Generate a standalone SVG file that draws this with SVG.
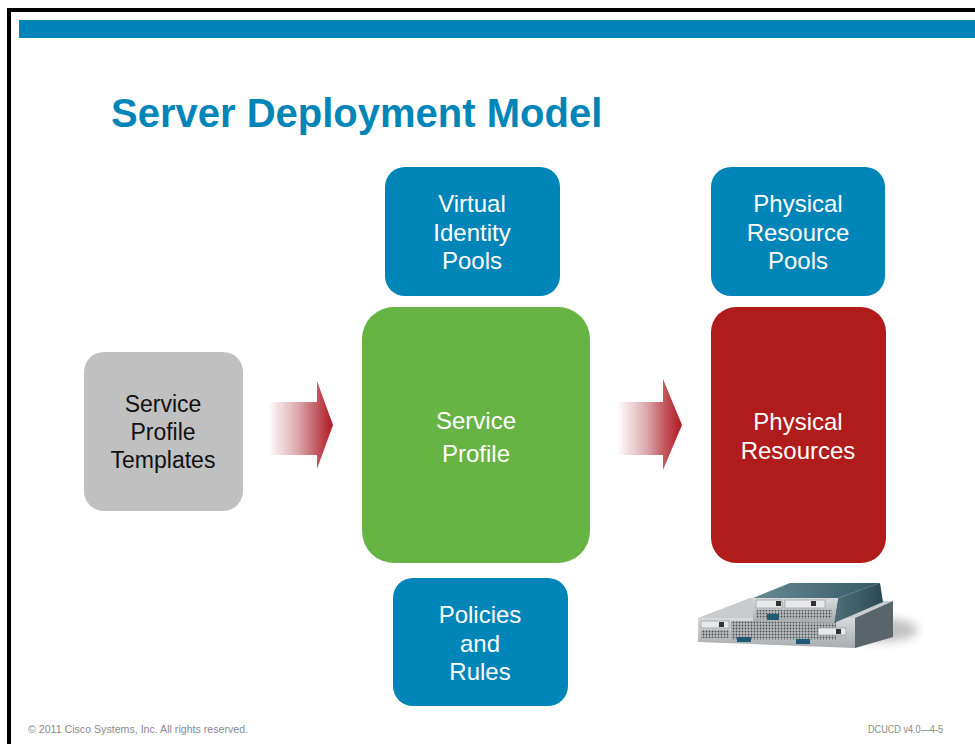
<svg xmlns="http://www.w3.org/2000/svg" width="975" height="744" viewBox="0 0 975 744">
  <defs>
    <style>
      .lbl { font-family: "Liberation Sans", Arial, sans-serif; font-size: 24px; text-anchor: middle; fill: #ffffff; }
      .dark { fill: #111111; font-size: 23px; }
      .foot { font-family: "Liberation Sans", Arial, sans-serif; font-size: 10px; fill: #8a8a8a; }
    </style>
    <linearGradient id="arrowA" gradientUnits="userSpaceOnUse" x1="268" y1="0" x2="333" y2="0">
      <stop offset="0" stop-color="#ffffff"/>
      <stop offset="0.45" stop-color="#dcaab0"/>
      <stop offset="0.75" stop-color="#c25a62"/>
      <stop offset="1" stop-color="#b01820"/>
    </linearGradient>
    <linearGradient id="arrowB" gradientUnits="userSpaceOnUse" x1="617" y1="0" x2="682" y2="0">
      <stop offset="0" stop-color="#ffffff"/>
      <stop offset="0.45" stop-color="#dcaab0"/>
      <stop offset="0.72" stop-color="#c25a62"/>
      <stop offset="1" stop-color="#b01820"/>
    </linearGradient>
    <linearGradient id="steelTop" x1="0" y1="0" x2="1" y2="0">
      <stop offset="0" stop-color="#6a8a90"/>
      <stop offset="1" stop-color="#34596a"/>
    </linearGradient>
    <linearGradient id="steelSide" x1="0" y1="0" x2="1" y2="0">
      <stop offset="0" stop-color="#4f7078"/>
      <stop offset="1" stop-color="#2c4a54"/>
    </linearGradient>
    <linearGradient id="silver" x1="0" y1="0" x2="0" y2="1">
      <stop offset="0" stop-color="#d8dadb"/>
      <stop offset="1" stop-color="#a8acae"/>
    </linearGradient>
    <pattern id="mesh" width="3" height="3" patternUnits="userSpaceOnUse">
      <rect width="3" height="3" fill="#b9bcbe"/>
      <circle cx="1.5" cy="1.5" r="0.9" fill="#4a4e52"/>
    </pattern>
    <filter id="soft" x="-30%" y="-60%" width="160%" height="220%">
      <feGaussianBlur stdDeviation="5"/>
    </filter>
  </defs>

  <!-- slide frame -->
  <rect x="0" y="0" width="975" height="744" fill="#ffffff"/>
  <rect x="7" y="8" width="968" height="4" fill="#000000"/>
  <rect x="7" y="8" width="4" height="736" fill="#000000"/>
  <rect x="19" y="20" width="956" height="18" fill="#0083b8"/>

  <text x="111" y="127" font-family="Liberation Sans, Arial, sans-serif" font-size="40" font-weight="bold" fill="#0085b9">Server Deployment Model</text>

  <!-- connectors -->
  <g id="connectors">
    <polygon points="268,402 317,402 317,381 333,425 317,469 317,455 268,455" fill="url(#arrowA)"/>
    <polygon points="617,402 663,402 663,379 682,425 663,470 663,455 617,455" fill="url(#arrowB)"/>
  </g>

  <g id="templates">
    <rect x="84" y="352" width="159" height="159" rx="20" fill="#c0c0c0"/>
    <text class="lbl dark" x="163" y="412">Service</text>
    <text class="lbl dark" x="163" y="440">Profile</text>
    <text class="lbl dark" x="163" y="468">Templates</text>
  </g>

  <g id="identity-pools">
    <rect x="385" y="167" width="175" height="129" rx="20" fill="#0085b9"/>
    <text class="lbl" x="472" y="212">Virtual</text>
    <text class="lbl" x="472" y="241">Identity</text>
    <text class="lbl" x="472" y="269">Pools</text>
  </g>

  <g id="resource-pools">
    <rect x="711" y="167" width="174" height="129" rx="20" fill="#0085b9"/>
    <text class="lbl" x="798" y="212">Physical</text>
    <text class="lbl" x="798" y="241">Resource</text>
    <text class="lbl" x="798" y="269">Pools</text>
  </g>

  <g id="service-profile">
    <rect x="362" y="307" width="228" height="256" rx="32" fill="#67b344"/>
    <text class="lbl" x="476" y="429" font-size="25">Service</text>
    <text class="lbl" x="476" y="462" font-size="25">Profile</text>
  </g>

  <g id="physical-resources">
    <rect x="711" y="307" width="175" height="256" rx="25" fill="#b01c1c"/>
    <text class="lbl" x="798" y="430">Physical</text>
    <text class="lbl" x="798" y="459">Resources</text>
  </g>

  <g id="policies">
    <rect x="393" y="578" width="175" height="128" rx="20" fill="#0085b9"/>
    <text class="lbl" x="480" y="623">Policies</text>
    <text class="lbl" x="480" y="652">and</text>
    <text class="lbl" x="480" y="680">Rules</text>
  </g>

  <!-- blade server illustration -->
  <g id="blade-servers">
    <ellipse cx="880" cy="630" rx="38" ry="12" fill="#8f8f8f" opacity="0.55" filter="url(#soft)"/>
    <!-- lower full-width blade -->
    <polygon points="698,618 750,598 893,601 855,618" fill="#c9cccd"/>
    <polygon points="855,618 893,601 893,637 855,648" fill="#59656b"/>
    <polygon points="698,618 855,618 855,648 698,642" fill="url(#silver)"/>
    <rect x="701" y="621" width="28" height="7" fill="#e6e8e9" stroke="#8d9194" stroke-width="0.6"/>
    <rect x="719" y="622" width="5" height="5" fill="#333"/>
    <rect x="731" y="621" width="105" height="19" fill="url(#mesh)"/>
    <rect x="701" y="630" width="28" height="8" fill="url(#mesh)"/>
    <rect x="818" y="628" width="28" height="7" fill="#e6e8e9" stroke="#8d9194" stroke-width="0.6"/>
    <rect x="836" y="629" width="5" height="5" fill="#333"/>
    <rect x="737" y="637" width="14" height="5" fill="#1f5a72"/>
    <rect x="796" y="639" width="14" height="5" fill="#1f5a72"/>
    <!-- upper half-width blade -->
    <polygon points="753,598 790,583 880,583 838,598" fill="url(#steelTop)"/>
    <polygon points="838,598 880,583 883,602 834,623" fill="url(#steelSide)"/>
    <polygon points="753,598 838,598 834,623 753,621" fill="url(#silver)"/>
    <rect x="756" y="600" width="26" height="8" fill="#e6e8e9" stroke="#8d9194" stroke-width="0.6"/>
    <rect x="785" y="600" width="40" height="8" fill="#e6e8e9" stroke="#8d9194" stroke-width="0.6"/>
    <rect x="776" y="601" width="5" height="5" fill="#333"/>
    <rect x="811" y="601" width="5" height="5" fill="#333"/>
    <rect x="756" y="610" width="76" height="9" fill="url(#mesh)"/>
    <rect x="767" y="614" width="12" height="6" fill="#1f5a72"/>
  </g>

  <text class="foot" x="28" y="733" textLength="220" lengthAdjust="spacingAndGlyphs">© 2011 Cisco Systems, Inc. All rights reserved.</text>
  <text class="foot" x="868" y="733" textLength="75" lengthAdjust="spacingAndGlyphs">DCUCD v4.0—4-5</text>
</svg>
